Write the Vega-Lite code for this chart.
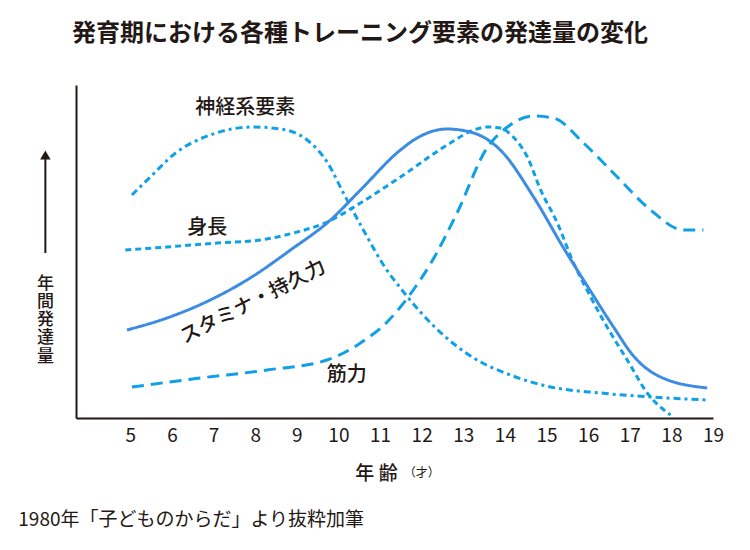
{
  "$schema": "https://vega.github.io/schema/vega-lite/v6.json",
  "autosize": {"type": "none"},
  "padding": {"left": 76, "top": 85, "right": 37, "bottom": 132},
  "width": 637,
  "height": 333,
  "background": "white",
  "title": {
    "text": "発育期における各種トレーニング要素の発達量の変化",
    "anchor": "start",
    "frame": "group",
    "dx": -4,
    "offset": 20,
    "baseline": "alphabetic",
    "font": "Noto Sans CJK JP",
    "fontSize": 24,
    "fontWeight": "bold",
    "color": "#231815"
  },
  "config": {"view": {"stroke": null}, "font": "Noto Sans CJK JP"},
  "datasets": {
    "curves": [
      {"series": "神経系要素", "age": 5.04, "v": 222},
      {"series": "神経系要素", "age": 5.48, "v": 240},
      {"series": "神経系要素", "age": 6.12, "v": 265},
      {"series": "神経系要素", "age": 6.92, "v": 282},
      {"series": "神経系要素", "age": 7.96, "v": 290},
      {"series": "神経系要素", "age": 8.61, "v": 288},
      {"series": "神経系要素", "age": 9.25, "v": 277},
      {"series": "神経系要素", "age": 9.73, "v": 255},
      {"series": "神経系要素", "age": 10.12, "v": 224},
      {"series": "神経系要素", "age": 10.6, "v": 187},
      {"series": "神経系要素", "age": 11.13, "v": 149},
      {"series": "神経系要素", "age": 11.49, "v": 129},
      {"series": "神経系要素", "age": 11.97, "v": 105},
      {"series": "神経系要素", "age": 12.52, "v": 82},
      {"series": "神経系要素", "age": 13.25, "v": 59},
      {"series": "神経系要素", "age": 14.13, "v": 42},
      {"series": "神経系要素", "age": 15.1, "v": 30},
      {"series": "神経系要素", "age": 16.3, "v": 24},
      {"series": "神経系要素", "age": 17.5, "v": 20},
      {"series": "神経系要素", "age": 18.87, "v": 17},
      {"series": "身長", "age": 4.88, "v": 167},
      {"series": "身長", "age": 5.88, "v": 170},
      {"series": "身長", "age": 7.08, "v": 174},
      {"series": "身長", "age": 8.13, "v": 177},
      {"series": "身長", "age": 8.92, "v": 184},
      {"series": "身長", "age": 9.73, "v": 195},
      {"series": "身長", "age": 10.53, "v": 214},
      {"series": "身長", "age": 11.49, "v": 240},
      {"series": "身長", "age": 12.69, "v": 274},
      {"series": "身長", "age": 13.25, "v": 287},
      {"series": "身長", "age": 13.57, "v": 290},
      {"series": "身長", "age": 13.89, "v": 289},
      {"series": "身長", "age": 14.2, "v": 280},
      {"series": "身長", "age": 14.54, "v": 260},
      {"series": "身長", "age": 14.86, "v": 227},
      {"series": "身長", "age": 15.26, "v": 194},
      {"series": "身長", "age": 15.65, "v": 154},
      {"series": "身長", "age": 16.06, "v": 120},
      {"series": "身長", "age": 16.54, "v": 84},
      {"series": "身長", "age": 16.94, "v": 57},
      {"series": "身長", "age": 17.42, "v": 24},
      {"series": "身長", "age": 17.98, "v": 2},
      {"series": "スタミナ・持久力", "age": 4.92, "v": 87},
      {"series": "スタミナ・持久力", "age": 5.88, "v": 99},
      {"series": "スタミナ・持久力", "age": 6.92, "v": 117},
      {"series": "スタミナ・持久力", "age": 7.88, "v": 139},
      {"series": "スタミナ・持久力", "age": 8.85, "v": 167},
      {"series": "スタミナ・持久力", "age": 9.81, "v": 197},
      {"series": "スタミナ・持久力", "age": 10.53, "v": 227},
      {"series": "スタミナ・持久力", "age": 11.49, "v": 267},
      {"series": "スタミナ・持久力", "age": 11.89, "v": 279},
      {"series": "スタミナ・持久力", "age": 12.61, "v": 288},
      {"series": "スタミナ・持久力", "age": 13.25, "v": 284},
      {"series": "スタミナ・持久力", "age": 13.89, "v": 267},
      {"series": "スタミナ・持久力", "age": 14.69, "v": 220},
      {"series": "スタミナ・持久力", "age": 15.41, "v": 169},
      {"series": "スタミナ・持久力", "age": 15.98, "v": 131},
      {"series": "スタミナ・持久力", "age": 16.61, "v": 90},
      {"series": "スタミナ・持久力", "age": 17.09, "v": 61},
      {"series": "スタミナ・持久力", "age": 17.74, "v": 40},
      {"series": "スタミナ・持久力", "age": 18.86, "v": 29},
      {"series": "筋力", "age": 5.04, "v": 30},
      {"series": "筋力", "age": 6.68, "v": 39},
      {"series": "筋力", "age": 8.29, "v": 47},
      {"series": "筋力", "age": 9.73, "v": 57},
      {"series": "筋力", "age": 10.53, "v": 74},
      {"series": "筋力", "age": 11.17, "v": 95},
      {"series": "筋力", "age": 11.49, "v": 110},
      {"series": "筋力", "age": 11.85, "v": 130},
      {"series": "筋力", "age": 12.21, "v": 153},
      {"series": "筋力", "age": 12.85, "v": 204},
      {"series": "筋力", "age": 13.57, "v": 269},
      {"series": "筋力", "age": 14.06, "v": 290},
      {"series": "筋力", "age": 14.69, "v": 301},
      {"series": "筋力", "age": 15.17, "v": 299},
      {"series": "筋力", "age": 15.89, "v": 274},
      {"series": "筋力", "age": 16.7, "v": 240},
      {"series": "筋力", "age": 17.5, "v": 207},
      {"series": "筋力", "age": 18.29, "v": 187},
      {"series": "筋力", "age": 18.77, "v": 187}
    ],
    "labels": [
      {"text": "神経系要素", "age": 7.76, "v": 309, "angle": 0},
      {"text": "身長", "age": 6.85, "v": 189, "angle": 0},
      {"text": "スタミナ・持久力", "age": 7.95, "v": 115, "angle": 333},
      {"text": "筋力", "age": 10.2, "v": 42, "angle": 0}
    ],
    "arrow": [
      {"age": 2.96, "v": 164, "v2": 258}
    ],
    "arrowhead": [
      {"age": 2.96, "v": 262}
    ],
    "footnote": [
      {"text": "1980年「子どものからだ」より抜粋加筆", "age": 2.31, "v": -103}
    ],
    "unit": [
      {"text": "（才）", "age": 12.0, "v": -56}
    ]
  },
  "layer": [
    {
      "data": {"name": "curves"},
      "mark": {"type": "line", "interpolate": "monotone", "strokeWidth": 3},
      "encoding": {
        "x": {
          "field": "age",
          "type": "quantitative",
          "scale": {"domain": [3.696, 19], "nice": false, "zero": false},
          "axis": {
            "values": [5, 6, 7, 8, 9, 10, 11, 12, 13, 14, 15, 16, 17, 18, 19],
            "ticks": false,
            "grid": false,
            "domainColor": "#231815",
            "domainWidth": 2,
            "labelFont": "Noto Sans CJK JP",
            "labelFontSize": 19,
            "labelColor": "#231815",
            "labelPadding": 8,
            "labelOverlap": false,
            "labelFlush": false,
            "labelBound": false,
            "title": "年 齢",
            "titleFont": "Noto Sans CJK JP",
            "titleFontSize": 19,
            "titleFontWeight": 500,
            "titleColor": "#231815",
            "titleX": 300,
            "titleY": 55,
            "titleAlign": "center",
            "titleBaseline": "middle"
          }
        },
        "y": {
          "field": "v",
          "type": "quantitative",
          "scale": {"domain": [-1, 332], "nice": false, "zero": false},
          "axis": {
            "ticks": false,
            "labels": false,
            "grid": false,
            "domainColor": "#231815",
            "domainWidth": 2,
            "title": ["年", "間", "発", "達", "量"],
            "titleFont": "Noto Sans CJK JP",
            "titleFontSize": 17,
            "titleFontWeight": 500,
            "titleLineHeight": 18.3,
            "titleColor": "#231815",
            "titleAngle": 0,
            "titleX": -31,
            "titleY": 190,
            "titleAlign": "center",
            "titleBaseline": "top"
          }
        },
        "color": {
          "field": "series",
          "type": "nominal",
          "scale": {
            "domain": ["神経系要素", "身長", "スタミナ・持久力", "筋力"],
            "range": ["#0fa0e6", "#0fa0e6", "#3b8ce2", "#0fa0e6"]
          },
          "legend": null
        },
        "strokeDash": {
          "field": "series",
          "type": "nominal",
          "scale": {
            "domain": ["神経系要素", "身長", "スタミナ・持久力", "筋力"],
            "range": [[7, 4, 3, 4], [6, 4], [1, 0], [12, 7]]
          },
          "legend": null
        }
      }
    },
    {
      "data": {"name": "labels"},
      "mark": {"type": "text", "fontSize": 20, "fontWeight": 500, "color": "#231815", "font": "Noto Sans CJK JP", "baseline": "middle", "align": "center"},
      "encoding": {
        "x": {"field": "age", "type": "quantitative"},
        "y": {"field": "v", "type": "quantitative"},
        "text": {"field": "text"},
        "angle": {"field": "angle", "type": "quantitative", "scale": null}
      }
    },
    {
      "data": {"name": "arrow"},
      "mark": {"type": "rule", "strokeWidth": 2, "color": "#231815"},
      "encoding": {
        "x": {"field": "age", "type": "quantitative"},
        "y": {"field": "v", "type": "quantitative"},
        "y2": {"field": "v2"}
      }
    },
    {
      "data": {"name": "arrowhead"},
      "mark": {"type": "point", "shape": "triangle-up", "filled": true, "opacity": 1, "size": 110, "color": "#231815"},
      "encoding": {
        "x": {"field": "age", "type": "quantitative"},
        "y": {"field": "v", "type": "quantitative"}
      }
    },
    {
      "data": {"name": "footnote"},
      "mark": {"type": "text", "color": "#231815", "font": "Noto Sans CJK JP", "baseline": "middle", "align": "left", "fontSize": 19},
      "encoding": {
        "x": {"field": "age", "type": "quantitative"},
        "y": {"field": "v", "type": "quantitative"},
        "text": {"field": "text"}
      }
    },
    {
      "data": {"name": "unit"},
      "mark": {"type": "text", "color": "#231815", "font": "Noto Sans CJK JP", "baseline": "middle", "align": "center", "fontSize": 12},
      "encoding": {
        "x": {"field": "age", "type": "quantitative"},
        "y": {"field": "v", "type": "quantitative"},
        "text": {"field": "text"}
      }
    }
  ]
}
